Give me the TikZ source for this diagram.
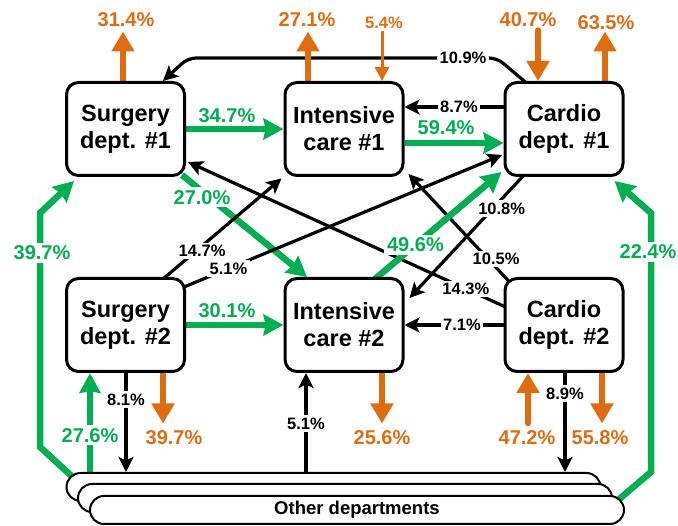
\documentclass[tikz,border=0pt]{standalone}
\usepackage{fontspec}
\setmainfont{Liberation Sans}
\usetikzlibrary{arrows.meta,calc,backgrounds}
\definecolor{og}{RGB}{224,108,16}
\definecolor{gr}{RGB}{0,176,80}
\begin{document}
\begin{tikzpicture}[x=1pt,y=-1pt,
  dept/.style={draw,line width=3pt,rounded corners=12pt,minimum width=118pt,minimum height=93pt,align=center,fill=white,inner sep=0pt,font=\fontsize{23.5}{27}\selectfont\bfseries},
  other/.style={draw,line width=2pt,rounded corners=14pt,minimum width=534pt,minimum height=28pt,fill=white,inner sep=0pt},
  blk/.style={black,line width=3.2pt,-{Stealth[length=15pt,width=15pt,inset=3.5pt]}},
  grn/.style={gr,line width=6.5pt,-{Stealth[length=20pt,width=21pt,inset=2pt]}},
  org/.style={og,line width=6.5pt,-{Triangle[length=20pt,width=22pt]}},
  orgthin/.style={og,line width=3pt,-{Triangle[length=14pt,width=14pt]}},
  bl/.style={fill=white,inner sep=2.5pt,font=\fontsize{16.5}{18}\selectfont\bfseries,text=black},
  gl/.style={inner sep=2pt,font=\fontsize{20}{22}\selectfont\bfseries,text=gr},
  gll/.style={gl,fill=white,inner sep=3pt},
  ol/.style={inner sep=2pt,font=\fontsize{20}{22}\selectfont\bfseries,text=og},
  osl/.style={inner sep=2pt,font=\fontsize{16.5}{18}\selectfont\bfseries,text=og},
]
\useasboundingbox (0,0) rectangle (678,526);

% department boxes
\node[dept] (S1) at (125.5,129) {Surgery\\dept. \#1};
\node[dept] (I1) at (344,129) {Intensive\\care \#1};
\node[dept] (C1) at (564,129) {Cardio\\dept. \#1};
\node[dept] (S2) at (125.5,325) {Surgery\\dept. \#2};
\node[dept] (I2) at (344,325) {Intensive\\care \#2};
\node[dept] (C2) at (564,325) {Cardio\\dept. \#2};

% other departments (stack)
\node[other] (O1) at (333.5,487) {};
\node[other] (O2) at (345,498) {};
\node[other,font=\fontsize{18.5}{20}\selectfont\bfseries] (O3) at (357,510) {Other departments};

\begin{scope}[on background layer]
\fill[white] (0,0) rectangle (678,526);

% crossing connectors
\draw[grn] ($(S1.south east)+(-4,-2)$) -- node[gll,pos=0.16,yshift=-6pt] (l11) {27.0\%} ($(I2.north)+(-37,0)$);
\draw[blk] ($(S2.north)+(37.5,2)$) -- node[bl,pos=0.33,yshift=-5pt] (l12) {14.7\%} ($(I1.south west)+(-2,1.5)$);
\draw[blk] ($(S2.east)+(-2,-38)$) -- node[bl,pos=0.14] (l13) {5.1\%} ($(C1.west)+(-1.5,26)$);
\draw[blk] ($(C2.west)+(2,-18)$) -- node[bl,pos=0.125] (l14) {14.3\%} ($(S1.east)+(2,33)$);
\draw[blk] ($(C2.north west)+(7,6)$) -- node[bl,pos=0.22,xshift=8pt] (l15) {10.5\%} ($(I1.south east)+(4,-3)$);
\draw[blk] ($(C1.south)+(-39,-3)$) -- node[bl,pos=0.28,xshift=9pt] (l16) {10.8\%} ($(I2.east)+(5,-27)$);
\draw[grn] ($(I2.north)+(31,2)$) -- node[gll,pos=0.32] (l17) {49.6\%} ($(C1.south west)+(-2,-5)$);

% top row connectors
\draw[blk,rounded corners=8pt] ($(C1.north west)+(23,2)$) -- (497,58) -- node[bl,pos=0.11] (l5) {10.9\%} (188,58) -- ($(S1.north)+(37.5,0)$);
\draw[grn] (S1.east) -- node[gl,pos=0.42,yshift=13pt] (l6) {34.7\%} (I1.west);
\draw[grn] ($(I1.east)+(0,14)$) -- node[gl,pos=0.42,yshift=15pt] (l7) {59.4\%} ($(C1.west)+(0,14)$);
\draw[blk] ($(C1.west)+(0,-22)$) -- node[bl,pos=0.45] (l8) {8.7\%} ($(I1.east)+(0,-22)$);

% outflows / inflows at top
\draw[org] ($(S1.north)+(-2.5,0)$) -- ++(0,-49.5) coordinate (t1);
\node[ol] (l1) at ($(t1)+(3,-12)$) {31.4\%};
\draw[org] ($(I1.north)+(-36,0)$) -- ++(0,-49.5) coordinate (t2);
\node[ol] (l2) at ($(t2)+(-1,-12)$) {27.1\%};
\draw[orgthin] ($(I1.north)+(38,-49.5)$) coordinate (t3) -- ($(I1.north)+(38,0)$);
\node[osl] (l3) at ($(t3)+(2,-9)$) {5.4\%};
\draw[org,line cap=round] ($(C1.north)+(-26,-50.5)$) coordinate (t4) -- ($(C1.north)+(-26,0)$);
\node[ol] (l4) at ($(t4)+(-10,-11)$) {40.7\%};
\draw[org] ($(C1.north)+(41,0)$) -- ++(0,-49.5) coordinate (t5);
\node[ol] (l4b) at ($(t5)+(1,-9)$) {63.5\%};

% second row connectors
\draw[grn] (S2.east) -- node[gl,pos=0.42,yshift=14pt] (l9) {30.1\%} (I2.west);
\draw[blk] (C2.west) -- node[bl,pos=0.42] (l10) {7.1\%} (I2.east);

% side loops from other departments
\draw[grn] ($(O1.north west)+(6,4)$) -- (40,447) -- node[gll,pos=0.83,xshift=2pt] (l18) {39.7\%} (40,213) -- ($(S1.south west)+(9,4)$);
\draw[grn] ($(O3.north east)+(-8,6)$) -- (651,472) -- node[gll,pos=0.85,xshift=-3pt] (l19) {22.4\%} (651,213) -- ($(C1.south east)+(-10,4)$);

% bottom connectors
\coordinate (b1) at ($(S2.south)+(-35.5,0)$);
\draw[grn] (b1 |- O1.north) -- node[gll,pos=0.37] (l20) {27.6\%} (b1);
\coordinate (b2) at ($(S2.south)+(0.5,0)$);
\draw[blk] (b2) -- node[bl,pos=0.27] (l21) {8.1\%} (b2 |- O1.north);
\draw[org] ($(S2.south)+(37.5,0)$) -- ++(0,50.5) coordinate (b3);
\node[ol] (l22) at ($(b3)+(11,14)$) {39.7\%};
\coordinate (b4) at ($(I2.south)+(-38,0)$);
\draw[blk] (b4 |- O1.north) -- node[bl,pos=0.49] (l23) {5.1\%} (b4);
\draw[org] ($(I2.south)+(38,0)$) -- ++(0,50.5) coordinate (b5);
\node[ol] (l24) at ($(b5)+(0,14)$) {25.6\%};
\draw[org,line cap=round] ($(C2.south)+(-36,50)$) coordinate (b6) -- ($(C2.south)+(-36,0)$);
\node[ol] (l25) at ($(b6)+(-1,14.5)$) {47.2\%};
\coordinate (b7) at ($(C2.south)+(1,0)$);
\draw[blk] (b7) -- node[bl,pos=0.21] (l26) {8.9\%} (b7 |- O1.north);
\draw[org] ($(C2.south)+(38,0)$) -- ++(0,50.5) coordinate (b8);
\node[ol] (l27) at ($(b8)+(-2,14)$) {55.8\%};
\end{scope}
\end{tikzpicture}
\end{document}
